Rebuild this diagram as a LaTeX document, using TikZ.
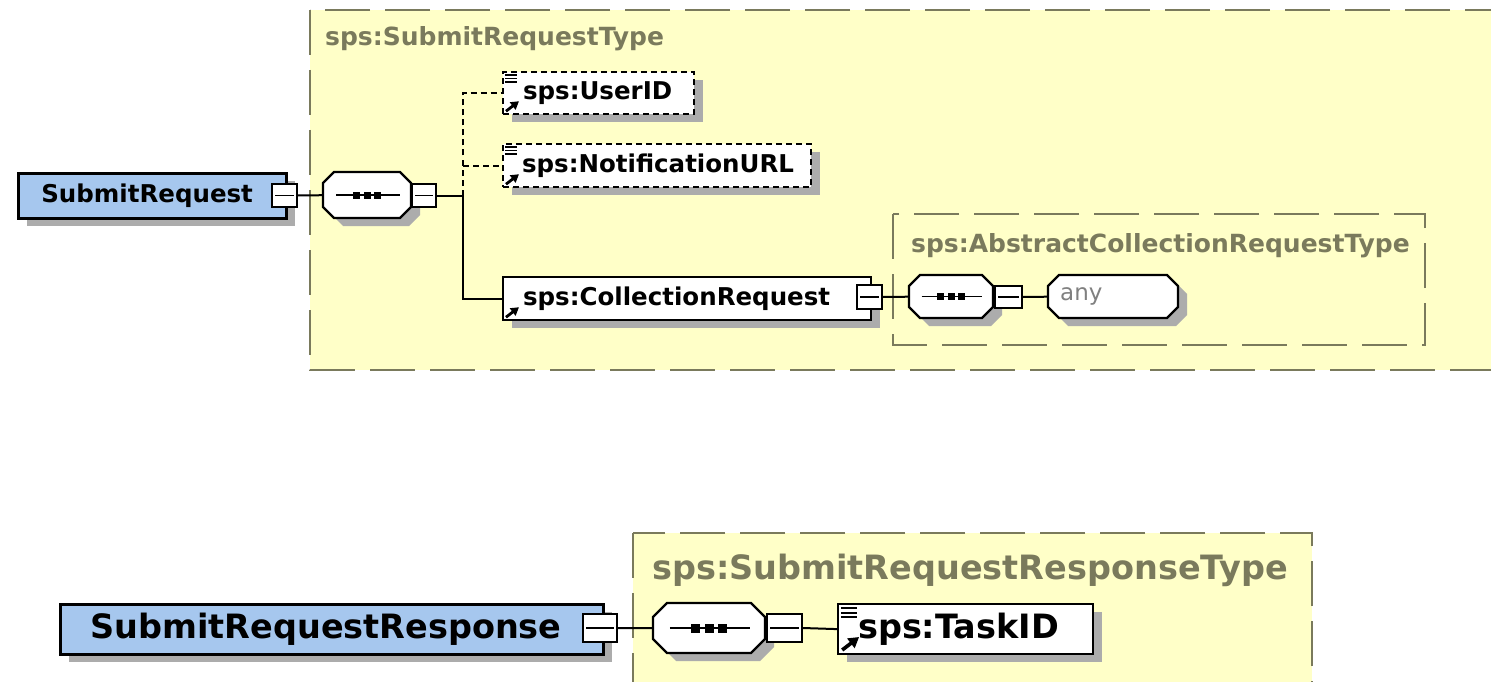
\documentclass[tikz,border=0pt]{standalone}
\usepackage{fontspec}
\setmainfont{DejaVu Sans}
\usetikzlibrary{shadows,arrows.meta}

\definecolor{typefill}{RGB}{255,255,200}
\definecolor{typeline}{RGB}{122,122,92}
\definecolor{rootfill}{RGB}{166,199,238}
\definecolor{shadowgray}{RGB}{172,172,172}
\definecolor{anytext}{RGB}{128,128,128}

\tikzset{
  typebox/.style={draw=typeline, fill=typefill, line width=2.2pt, dash pattern=on 45pt off 15pt},
  typetitle/.style={text=typeline, anchor=base west, inner sep=0pt},
  boxshadow/.style={drop shadow={shadow xshift=9pt, shadow yshift=-8pt, fill=shadowgray, opacity=1}},
  namedbox/.style={anchor=north west, inner ysep=0pt, align=left, boxshadow},
  rootbox/.style={namedbox, draw=black, fill=rootfill, line width=2.6pt},
  elembox/.style={namedbox, draw=black, fill=white, line width=2.2pt},
  optbox/.style={elembox, dash pattern=on 6pt off 4pt},
  minusnode/.style={draw=black, fill=white, line width=1.8pt, inner sep=0pt},
  link/.style={draw=black, line width=2pt},
  optlink/.style={link, dash pattern=on 6pt off 4pt},
  smalltxt/.style={font=\bfseries\fontsize{24.5}{28}\selectfont},
  largetxt/.style={font=\bfseries\fontsize{33.5}{38}\selectfont},
  smalltitle/.style={font=\bfseries\fontsize{25}{30}\selectfont},
}

% collapse button: name, centre x, centre y, width, height
\newcommand\collapser[5]{%
  \node[minusnode, minimum width=#4pt, minimum height=#5pt] (#1) at (#2,#3) {};
  \draw[line width=1.8pt] ([xshift=4pt]#1.west) -- ([xshift=-4pt]#1.east);
}

% octagonal model-group frame: name, left, top, width, height, chamfer
\newcommand\octframe[6]{%
  \begin{scope}[shift={(#2,#3)}]
    \fill[shadowgray] (9+#6,8) -- (9+#4-#6,8) -- (9+#4,8+#6) -- (9+#4,8+#5-#6) -- (9+#4-#6,8+#5) -- (9+#6,8+#5) -- (9,8+#5-#6) -- (9,8+#6) -- cycle;
    \filldraw[fill=white, draw=black, line width=2.2pt] (#6,0) -- (#4-#6,0) -- (#4,#6) -- (#4,#5-#6) -- (#4-#6,#5) -- (#6,#5) -- (0,#5-#6) -- (0,#6) -- cycle;
    \node[inner sep=0pt, minimum width=#4pt, minimum height=#5pt, anchor=north west] (#1) at (0,0) {};
  \end{scope}
}

% sequence compositor: name, left, top, width, height, chamfer, dot size
\newcommand\seqgroup[7]{%
  \octframe{#1}{#2}{#3}{#4}{#5}{#6}
  \begin{scope}[shift={(#2,#3)}]
    \draw[line width=1.8pt] ({#4*0.15},{#5/2}) -- ({#4*0.87},{#5/2});
    \foreach \k in {-1,0,1}
      \fill ({#4/2+\k*1.55*#7-#7/2},{#5/2-#7/2}) rectangle +(#7,#7);
  \end{scope}
}

% element reference arrow: node, size factor
\newcommand\refmark[2]{%
  \draw[line width=#2*2.8pt, -{Triangle[length=#2*8pt,width=#2*9pt]}]
    ([xshift=#2*4pt,yshift=#2*4pt]#1.south west) -- ++({13*#2},{-10*#2});
}

% simple-content marker: node, size factor
\newcommand\textmark[2]{%
  \foreach \d in {4,7.5,11}
    \draw[line width=#2*1.6pt] ([xshift=#2*3pt,yshift=-\d*#2*1pt]#1.north west) -- ++({12*#2},0);
}

\begin{document}
\begin{tikzpicture}[x=1pt, y=-1pt]
\useasboundingbox (0,0) rectangle (1491,682);
\fill[white] (0,0) rectangle (1491,682);

% ---------- SubmitRequest ----------
\draw[typebox] (310,10) rectangle (1510,370);
\node[typetitle, smalltitle] (t1) at (325,46) {sps:SubmitRequestType};

\draw[typebox] (893,214) rectangle (1425,345);
\node[typetitle, smalltitle] (t2) at (911,252) {sps:AbstractCollectionRequestType};

\node[rootbox, smalltxt, text width=222pt, inner xsep=23pt, minimum height=45pt] (sr) at (17,172) {SubmitRequest};
\collapser{srm}{284.5}{195.5}{25}{23}

\seqgroup{sq1}{323}{172}{88}{46}{11}{7}
\collapser{sq1m}{424}{195.5}{24}{23}
\coordinate (br) at (463,195.5);

\node[optbox, smalltxt, text width=151pt, inner xsep=20pt, minimum height=42pt] (uid) at (502,71) {sps:UserID};
\node[optbox, smalltxt, text width=270pt, inner xsep=19pt, minimum height=43pt] (nurl) at (502,143) {sps:NotificationURL};
\node[elembox, smalltxt, text width=328pt, inner xsep=20pt, minimum height=43pt] (coll) at (502,276) {sps:CollectionRequest};
\textmark{uid}{1}\refmark{uid}{1}
\textmark{nurl}{1}\refmark{nurl}{1}
\refmark{coll}{1}
\collapser{collm}{869.5}{297}{25}{24}

\seqgroup{sq2}{909}{275}{84}{43}{11}{7}
\collapser{sq2m}{1008.5}{297}{27}{22}
\octframe{any}{1048}{275}{130}{43}{11}
\node[anchor=west, inner sep=0pt, text=anytext, font=\fontsize{23}{27}\selectfont] (anytxt) at (1060,296) {any};

\draw[link] (srm.east) -- (sq1.west);
\draw[link] (sq1.east) -- (sq1m.west);
\draw[link] (sq1m.east) -- (br);
\draw[link] (br) |- (coll.west);
\draw[optlink] (br) |- (uid.west);
\draw[optlink] (br) |- (nurl.west);
\draw[link] (collm.east) -- (sq2.west);
\draw[link] (sq2.east) -- (sq2m.west);
\draw[link] (sq2m.east) -- (any.west);

% ---------- SubmitRequestResponse ----------
\draw[typebox] (633,533) rectangle (1312,710);
\node[typetitle, largetxt] (t3) at (652,579) {sps:SubmitRequestResponseType};

\node[rootbox, largetxt, text width=483pt, inner xsep=30pt, minimum height=50pt] (srr) at (59,603) {SubmitRequestResponse};
\collapser{srrm}{600}{628}{34}{28}

\seqgroup{sq3}{653}{603}{112}{50}{14}{9}
\collapser{sq3m}{784.5}{628}{35}{28}

\node[elembox, largetxt, text width=215pt, inner xsep=20pt, minimum height=50pt] (task) at (837,603) {sps:TaskID};
\textmark{task}{1.3}\refmark{task}{1.3}

\draw[link] (srrm.east) -- (sq3.west);
\draw[link] (sq3.east) -- (sq3m.west);
\draw[link] (sq3m.east) -- (task.west);
\end{tikzpicture}
\end{document}
